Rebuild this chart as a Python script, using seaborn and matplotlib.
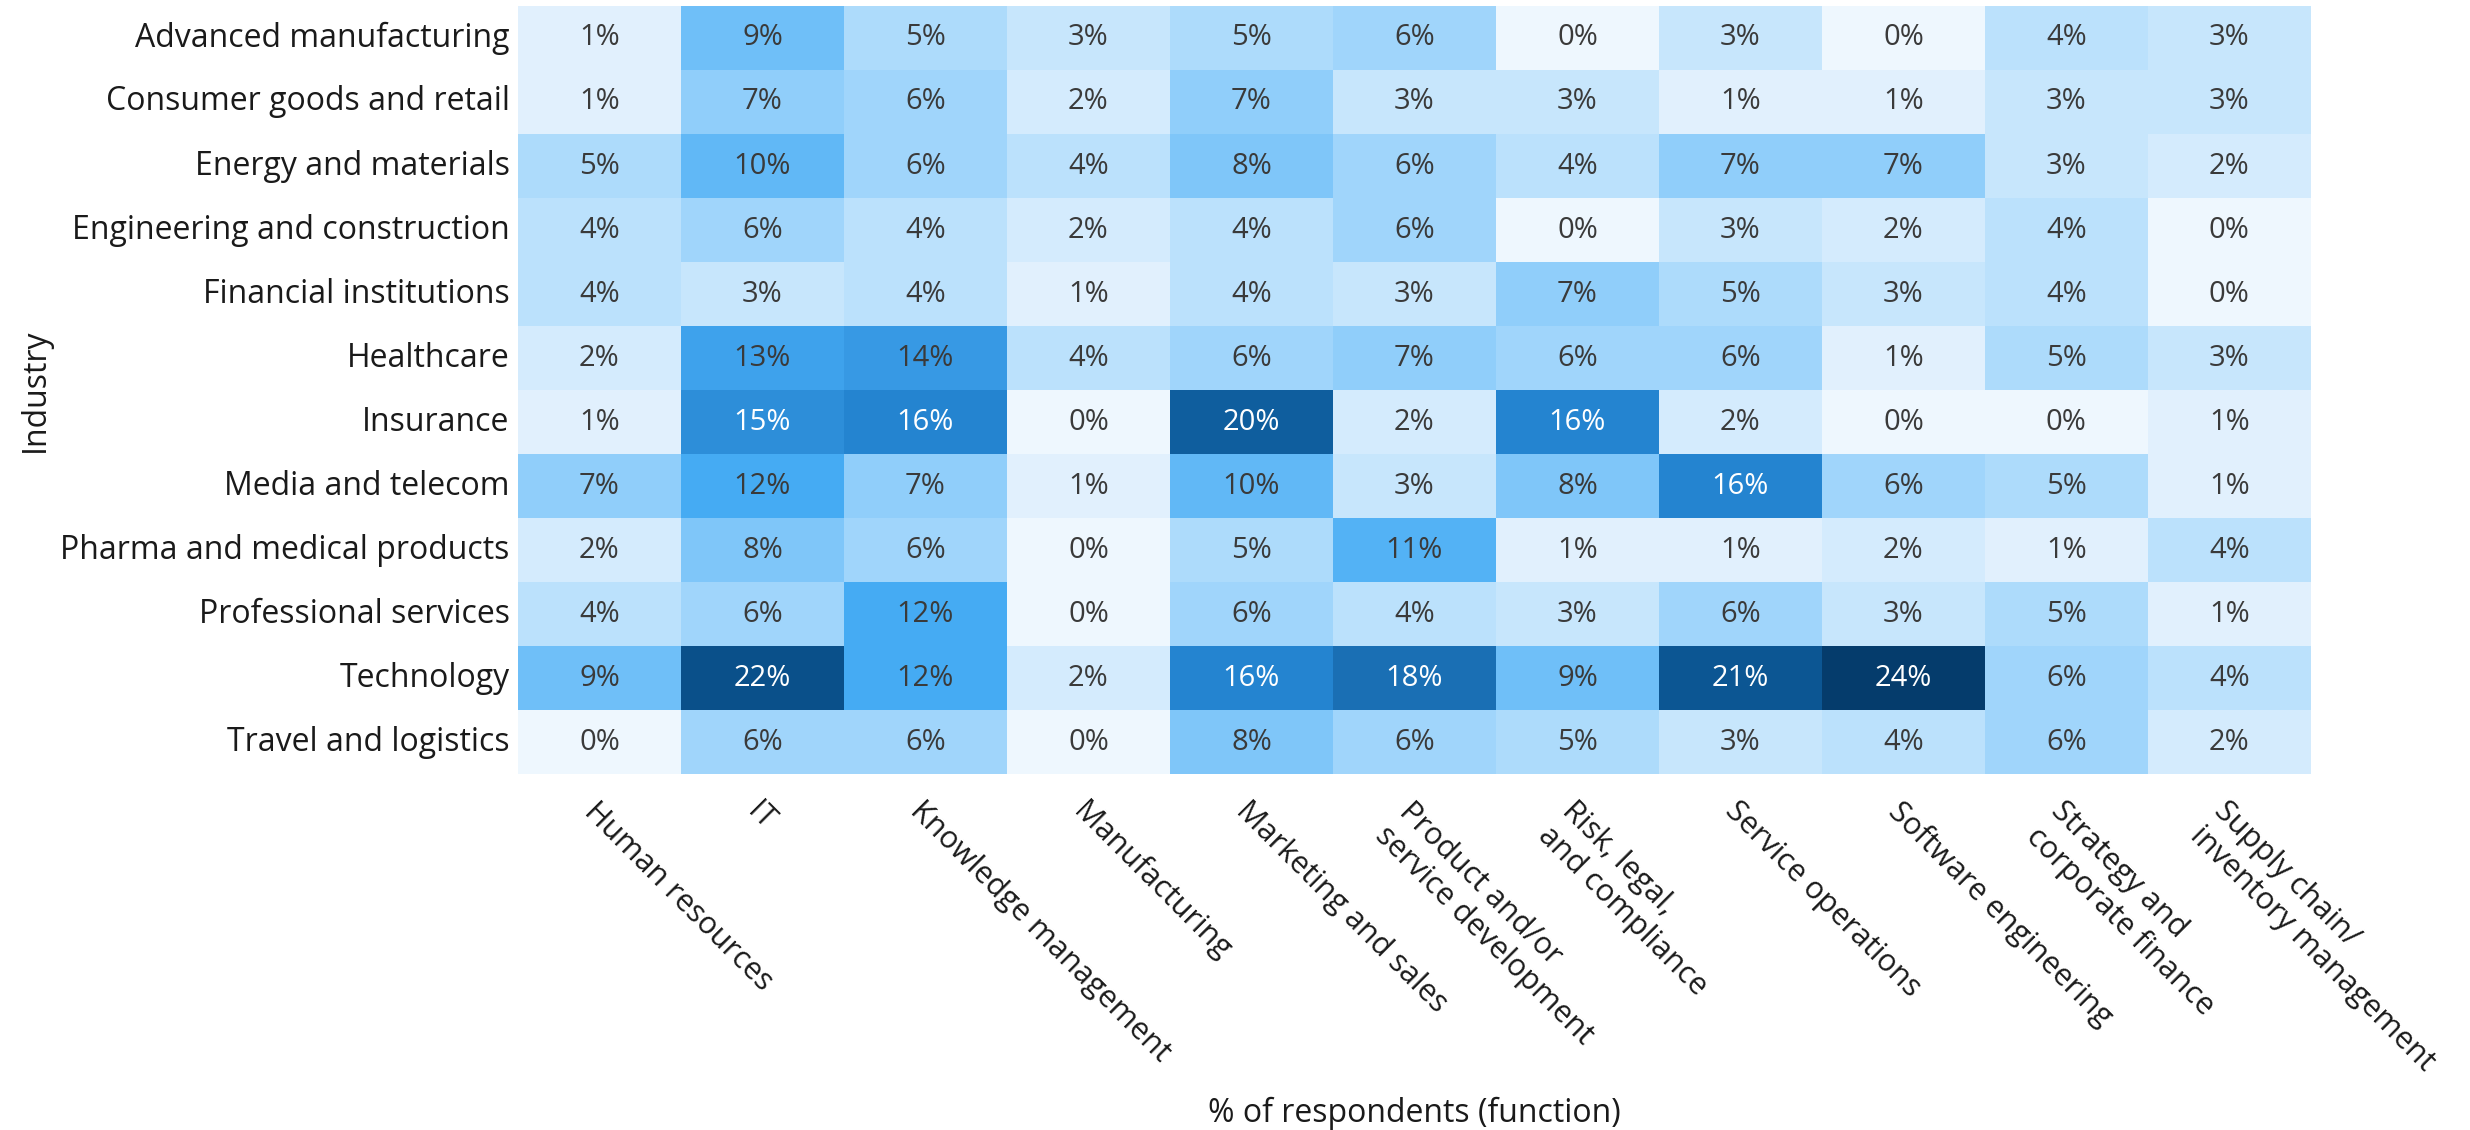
import numpy as np
import pandas as pd
import matplotlib
matplotlib.use('Agg')
import matplotlib.pyplot as plt
import seaborn as sns
from matplotlib.colors import LinearSegmentedColormap

# ---------------- data ----------------
industries = [
    'Advanced manufacturing', 'Consumer goods and retail', 'Energy and materials',
    'Engineering and construction', 'Financial institutions', 'Healthcare',
    'Insurance', 'Media and telecom', 'Pharma and medical products',
    'Professional services', 'Technology', 'Travel and logistics',
]
functions = [
    'Human resources', 'IT', 'Knowledge management', 'Manufacturing',
    'Marketing and sales', 'Product and/or\nservice development',
    'Risk, legal,\nand compliance', 'Service operations', 'Software engineering',
    'Strategy and\ncorporate finance', 'Supply chain/\ninventory management',
]
advanced_manufacturing = [1, 9, 5, 3, 5, 6, 0, 3, 0, 4, 3]
consumer_goods = [1, 7, 6, 2, 7, 3, 3, 1, 1, 3, 3]
energy_materials = [5, 10, 6, 4, 8, 6, 4, 7, 7, 3, 2]
engineering_construction = [4, 6, 4, 2, 4, 6, 0, 3, 2, 4, 0]
financial_institutions = [4, 3, 4, 1, 4, 3, 7, 5, 3, 4, 0]
healthcare = [2, 13, 14, 4, 6, 7, 6, 6, 1, 5, 3]
insurance = [1, 15, 16, 0, 20, 2, 16, 2, 0, 0, 1]
media_telecom = [7, 12, 7, 1, 10, 3, 8, 16, 6, 5, 1]
pharma_medical = [2, 8, 6, 0, 5, 11, 1, 1, 2, 1, 4]
professional_services = [4, 6, 12, 0, 6, 4, 3, 6, 3, 5, 1]
technology = [9, 22, 12, 2, 16, 18, 9, 21, 24, 6, 4]
travel_logistics = [0, 6, 6, 0, 8, 6, 5, 3, 4, 6, 2]

rows = [advanced_manufacturing, consumer_goods, energy_materials,
        engineering_construction, financial_institutions, healthcare,
        insurance, media_telecom, pharma_medical, professional_services,
        technology, travel_logistics]
df = pd.DataFrame(rows, index=industries, columns=functions)

# ---------------- style ----------------
FONT = ['Open Sans', 'DejaVu Sans']
plt.rcParams['font.family'] = FONT

cmap = LinearSegmentedColormap.from_list('blues_mck', [
    (0.0, '#eef7fe'),
    (1 / 24, '#e0f0fd'),
    (3 / 24, '#c7e6fc'),
    (6 / 24, '#a0d5fb'),
    (9 / 24, '#6fbff8'),
    (12 / 24, '#45abf3'),
    (14 / 24, '#3799e4'),
    (16 / 24, '#2484d0'),
    (18 / 24, '#1a70b5'),
    (20 / 24, '#0f5e9e'),
    (22 / 24, '#0a508a'),
    (1.0, '#053c6c'),
])

fig = plt.figure(figsize=(24.7, 11.3), dpi=100)
ax = fig.add_axes([0.2097, 0.315, 0.7259, 0.6797])

labels = df.map(lambda v: f'{v}%')
sns.heatmap(df, ax=ax, cmap=cmap, vmin=0, vmax=24, cbar=False,
            annot=labels, fmt='', linewidths=0,
            annot_kws={'fontsize': 21, 'family': FONT})

# white text on the dark cells
for txt, v in zip(ax.texts, df.values.flatten()):
    txt.set_color('white' if v >= 15 else '#3a3a3a')

ax.tick_params(length=0)
ax.tick_params(axis='y', pad=6, labelsize=23)
ax.tick_params(axis='x', pad=16, labelsize=22)
plt.setp(ax.get_yticklabels(), rotation=0, color='#1a1a1a')
plt.setp(ax.get_xticklabels(), rotation=-45, ha='left', va='top',
         rotation_mode='anchor', multialignment='left', color='#1a1a1a')

ax.set_ylabel('Industry', fontsize=23, color='#1a1a1a')
ax.yaxis.set_label_coords(-0.26, 0.5)
ax.set_xlabel('% of respondents (function)', fontsize=23, color='#1a1a1a')
ax.xaxis.set_label_coords(0.5, -0.42)

fig.savefig('out.png', dpi=100)
